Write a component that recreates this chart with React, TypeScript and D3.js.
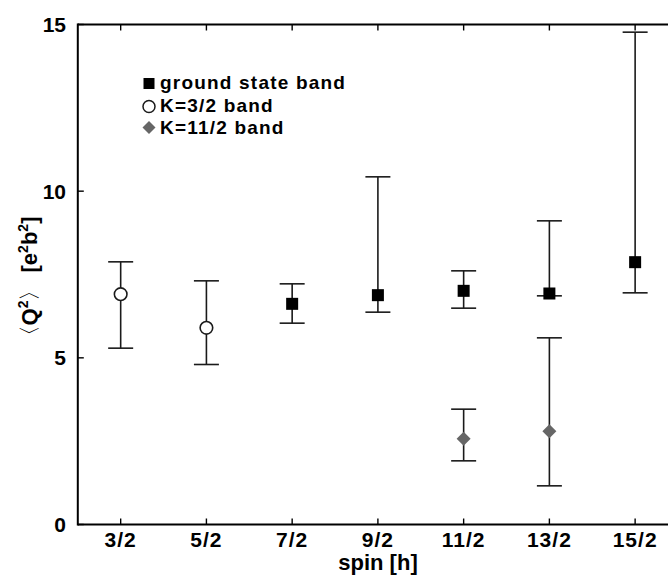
import React from "react";
import * as d3 from "d3";

const spinTicks = [1.5, 2.5, 3.5, 4.5, 5.5, 6.5, 7.5];
const spinTickLabels = ["3/2", "5/2", "7/2", "9/2", "11/2", "13/2", "15/2"];
const yTicks = [0, 5, 10, 15];

const groundSpin = [3.5, 4.5, 5.5, 6.5, 7.5];
const groundQ = [6.62, 6.88, 7.01, 6.93, 7.87];
const groundLo = [6.04, 6.37, 6.49, 6.86, 6.95];
const groundHi = [7.22, 10.43, 7.61, 9.11, 14.77];

const k32Spin = [1.5, 2.5];
const k32Q = [6.91, 5.9];
const k32Lo = [5.29, 4.8];
const k32Hi = [7.88, 7.31];

const k112Spin = [5.5, 6.5];
const k112Q = [2.57, 2.8];
const k112Lo = [1.91, 1.16];
const k112Hi = [3.46, 5.6];

const legendLabels = ["ground state band", "K=3/2 band", "K=11/2 band"];

const W = 668;
const H = 575;
const FONT = "'Liberation Sans', Arial, Helvetica, sans-serif";

export default function App() {
  const x = d3.scaleLinear().domain([1, 8]).range([77.8, 678]);
  const y = d3.scaleLinear().domain([0, 15]).range([524.5, 24.5]);
  const ink = "#1a1a1a";
  const capW = 12.5;

  const errBars = (sp: number[], lo: number[], hi: number[], key: string) =>
    sp.map((s, i) => (
      <g key={key + i} stroke={ink} strokeWidth={1.6}>
        <line x1={x(s)} x2={x(s)} y1={y(lo[i])} y2={y(hi[i])} />
        <line x1={x(s) - capW} x2={x(s) + capW} y1={y(lo[i])} y2={y(lo[i])} />
        <line x1={x(s) - capW} x2={x(s) + capW} y1={y(hi[i])} y2={y(hi[i])} />
      </g>
    ));

  const diamond = (cx: number, cy: number, r: number) =>
    `M${cx},${cy - r}L${cx + r},${cy}L${cx},${cy + r}L${cx - r},${cy}Z`;

  const [x0, x1] = x.range();
  const [yb, yt] = y.range();

  return (
    <svg
      width={W}
      height={H}
      style={{ position: "absolute", left: 0, top: 0, background: "#fff" }}
      fontFamily={FONT}
    >
      <rect x={0} y={0} width={W} height={H} fill="#fff" />
      {/* error bars */}
      {errBars(k32Spin, k32Lo, k32Hi, "k32")}
      {errBars(groundSpin, groundLo, groundHi, "g")}
      {errBars(k112Spin, k112Lo, k112Hi, "k112")}
      {/* markers */}
      {k32Spin.map((s, i) => (
        <circle key={"c" + i} cx={x(s)} cy={y(k32Q[i])} r={6.3} fill="#fff" stroke={ink} strokeWidth={1.6} />
      ))}
      {groundSpin.map((s, i) => (
        <rect key={"s" + i} x={x(s) - 6} y={y(groundQ[i]) - 6} width={12} height={12} fill="#000" />
      ))}
      {k112Spin.map((s, i) => (
        <path key={"d" + i} d={diamond(x(s), y(k112Q[i]), 7)} fill="#666" />
      ))}
      {/* frame */}
      <g stroke="#000" strokeWidth={2} fill="none">
        <line x1={x0} x2={x1} y1={yb} y2={yb} />
        <line x1={x0} x2={x1} y1={yt} y2={yt} />
        <line x1={x0} x2={x0} y1={yt - 1} y2={yb + 1} />
        <line x1={x1} x2={x1} y1={yt - 1} y2={yb + 1} />
      </g>
      <g stroke="#000" strokeWidth={1.4}>
        {spinTicks.map((s, i) => (
          <g key={"t" + i}>
            <line x1={x(s)} x2={x(s)} y1={yb} y2={yb - 6} />
            <line x1={x(s)} x2={x(s)} y1={yt} y2={yt + 6} />
          </g>
        ))}
        {yTicks.map((v, i) => (
          <line key={"yt" + i} x1={x0} x2={x0 + 6} y1={y(v)} y2={y(v)} />
        ))}
      </g>
      {/* tick labels */}
      <g fontSize={21} fontWeight="bold" fill="#000">
        {spinTicks.map((s, i) => (
          <text key={"xl" + i} x={x(s)} y={547} textAnchor="middle" letterSpacing={1}>
            {spinTickLabels[i]}
          </text>
        ))}
        {yTicks.map((v, i) => (
          <text key={"yl" + i} x={66} y={y(v) + 7.5} textAnchor="end">
            {v}
          </text>
        ))}
        <text x={378} y={570} textAnchor="middle" fontSize={22}>spin [h]</text>
      </g>
      {/* y label */}
      <text
        transform="translate(37,282) rotate(-90)"
        textAnchor="middle"
        fontSize={22}
        fill="#000"
      >
        <tspan fontWeight="normal">〈</tspan>
        <tspan fontWeight="bold">Q</tspan>
        <tspan fontWeight="bold" fontSize={14} dy={-9}>2</tspan>
        <tspan fontWeight="normal" dy={9}>〉</tspan>
        <tspan fontWeight="bold"> [e</tspan>
        <tspan fontWeight="bold" fontSize={14} dy={-9}>2</tspan>
        <tspan fontWeight="bold" dy={9}>b</tspan>
        <tspan fontWeight="bold" fontSize={14} dy={-9}>2</tspan>
        <tspan fontWeight="bold" dy={9}>]</tspan>
      </text>
      {/* legend */}
      <g fontSize={19} fontWeight="bold" fill="#000" letterSpacing={1.2}>
        <rect x={143.5} y={78} width={11} height={11} fill="#000" />
        <text x={160} y={89}>{legendLabels[0]}</text>
        <circle cx={149} cy={106.5} r={6} fill="#fff" stroke={ink} strokeWidth={1.5} />
        <text x={160} y={111.5}>{legendLabels[1]}</text>
        <path d={diamond(149, 127.5, 6.5)} fill="#666" />
        <text x={160} y={134}>{legendLabels[2]}</text>
      </g>
    </svg>
  );
}
